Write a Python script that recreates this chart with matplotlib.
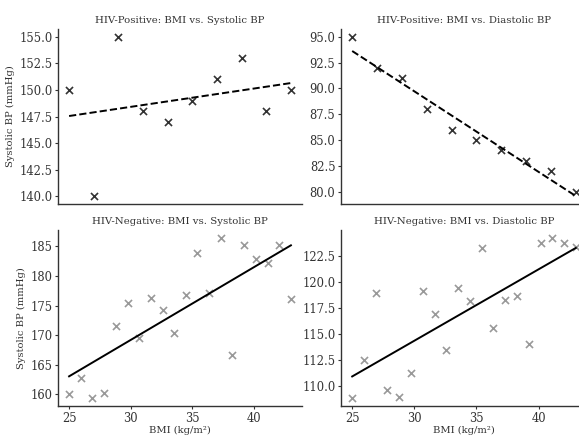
import numpy as np
import matplotlib
matplotlib.use('Agg')
import matplotlib.pyplot as plt

plt.rcParams['font.family'] = ['DejaVu Serif']

# HIV-positive group
bmi_pos = [25, 27, 29, 31, 33, 35, 37, 39, 41, 43]
sys_pos = [150, 140, 155, 148, 147, 149, 151, 153, 148, 150]
dia_pos = [95, 92, 91, 88, 86, 85, 84, 83, 82, 80]

# HIV-negative group
bmi_neg = [25.0, 25.95, 26.89, 27.84, 28.79, 29.74, 30.68, 31.63, 32.58, 33.53,
           34.47, 35.42, 36.37, 37.32, 38.26, 39.21, 40.16, 41.11, 42.05, 43.0]
sys_neg = [160.1, 162.8, 159.4, 160.2, 171.5, 175.5, 169.6, 176.2, 174.3, 170.4,
           176.7, 183.9, 177.2, 186.4, 166.6, 185.2, 182.8, 182.1, 185.2, 176.1]
dia_neg = [108.8, 112.5, 118.9, 109.6, 108.9, 111.2, 119.1, 116.9, 113.4, 119.4,
           118.1, 123.2, 115.5, 118.2, 118.6, 114.0, 123.7, 124.2, 123.7, 123.3]

W, H = 579, 438
fig = plt.figure(figsize=(W / 100, H / 100), dpi=100)

def box(l, r, t, b):
    return [l / W, 1 - b / H, (r - l) / W, (b - t) / H]

ax1 = fig.add_axes(box(58, 302, 29, 204))
ax2 = fig.add_axes(box(341, 587, 29, 204), sharex=ax1)
ax3 = fig.add_axes(box(58, 302, 230, 406), sharex=ax1)
ax4 = fig.add_axes(box(341, 587, 230, 406), sharex=ax1)

def fit_line(ax, x, y, ls):
    k, b = np.polyfit(x, y, 1)
    xs = np.array([min(x), max(x)])
    ax.plot(xs, k * xs + b, color='black', ls=ls, lw=1.4)

tfs, lfs = 7.3, 7.2

# --- HIV-positive ---
ax1.scatter(bmi_pos, sys_pos, marker='x', color='#333333', s=26, lw=1.2)
fit_line(ax1, bmi_pos, sys_pos, '--')
ax1.set_title('HIV-Positive: BMI vs. Systolic BP', fontsize=tfs, color='#333333', pad=4)
ax1.set_ylabel('Systolic BP (mmHg)', fontsize=lfs, color='#333333', labelpad=3)

ax2.scatter(bmi_pos, dia_pos, marker='x', color='#333333', s=26, lw=1.2)
fit_line(ax2, bmi_pos, dia_pos, '--')
ax2.set_title('HIV-Positive: BMI vs. Diastolic BP', fontsize=tfs, color='#333333', pad=4)

# --- HIV-negative ---
ax3.scatter(bmi_neg, sys_neg, marker='x', color='#999999', s=26, lw=1.2)
fit_line(ax3, bmi_neg, sys_neg, '-')
ax3.set_title('HIV-Negative: BMI vs. Systolic BP', fontsize=tfs, color='#333333', pad=4)
ax3.set_ylabel('Systolic BP (mmHg)', fontsize=lfs, color='#333333', labelpad=3)
ax3.set_xlabel('BMI (kg/m²)', fontsize=lfs, color='#333333', labelpad=1)

ax4.scatter(bmi_neg, dia_neg, marker='x', color='#999999', s=26, lw=1.2)
fit_line(ax4, bmi_neg, dia_neg, '-')
ax4.set_title('HIV-Negative: BMI vs. Diastolic BP', fontsize=tfs, color='#333333', pad=4)
ax4.set_xlabel('BMI (kg/m²)', fontsize=lfs, color='#333333', labelpad=1)

ax1.set_xticks([25, 30, 35, 40])
for ax in (ax1, ax2, ax3, ax4):
    ax.spines['top'].set_visible(False)
    ax.spines['right'].set_visible(False)
    for s in ('left', 'bottom'):
        ax.spines[s].set_color('#333333')
        ax.spines[s].set_linewidth(1.0)
    ax.tick_params(labelsize=8.3, colors='#333333', length=2.5, width=0.8, pad=1.5)
for ax in (ax1, ax2):
    ax.tick_params(axis='x', bottom=False, labelbottom=False)

fig.savefig('out.png', dpi=100)
